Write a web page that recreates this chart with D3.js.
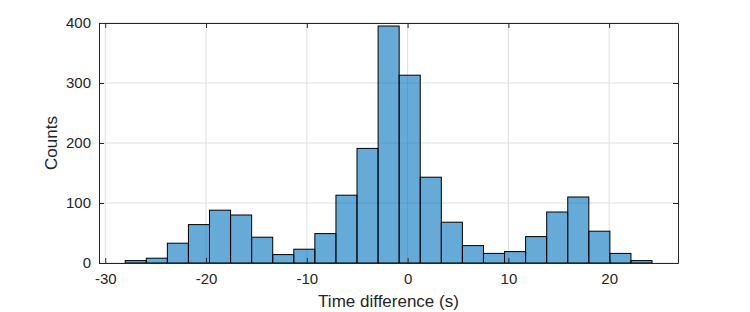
<!DOCTYPE html>
<html>
<head>
<meta charset="utf-8">
<script src="https://cdn.jsdelivr.net/npm/d3@7"></script>
<style>
body{margin:0;background:#fff;}
text{font-family:"Liberation Sans",Arial,Helvetica,sans-serif;fill:#262626;}
</style>
</head>
<body>
<svg id="chart" width="750" height="312"></svg>
<script>
// Data
const binStart = -28.02;
const binWidth = 2.091;
const counts = [4,8,33,64,88,80,43,14,23,49,113,191,395,313,143,68,29,16,19,44,85,110,53,16,4];
const xTicks = [-30,-20,-10,0,10,20];
const yTicks = [0,100,200,300,400];
const xLabel = "Time difference (s)";
const yLabel = "Counts";

const bins = counts.map((c,i)=>({x0: binStart + i*binWidth, x1: binStart + (i+1)*binWidth, n: c}));

const svg = d3.select("#chart");
const L = 99, R = 678, T = 23, B = 263;
const x = d3.scaleLinear().domain([-30.62, 26.83]).range([L, R]);
const y = d3.scaleLinear().domain([0, 400]).range([B, T]);

// grid
const grid = svg.append("g");
grid.selectAll(".gx").data(xTicks).enter().append("line")
  .attr("x1", d=>x(d)).attr("x2", d=>x(d)).attr("y1", T).attr("y2", B)
  .attr("stroke", "#dfdfdf").attr("stroke-width", 1);
grid.selectAll(".gy").data(yTicks).enter().append("line")
  .attr("x1", L).attr("x2", R).attr("y1", d=>y(d)).attr("y2", d=>y(d))
  .attr("stroke", "#dfdfdf").attr("stroke-width", 1);

// bars
svg.append("g").selectAll("rect").data(bins).enter().append("rect")
  .attr("x", d=>x(d.x0)).attr("width", d=>x(d.x1)-x(d.x0))
  .attr("y", d=>y(d.n)).attr("height", d=>y(0)-y(d.n))
  .attr("fill", "rgba(0,114,189,0.6)")
  .attr("stroke", "#000").attr("stroke-width", 1);

// axes (MATLAB-like box with inward ticks)
const tl = 5;
const fmt = d => String(d);
const xAxisB = d3.axisBottom(x).tickValues(xTicks).tickFormat(fmt).tickSizeInner(-tl).tickSizeOuter(0).tickPadding(10);
const xAxisT = d3.axisTop(x).tickValues(xTicks).tickSizeInner(-tl).tickSizeOuter(0).tickFormat("");
const yAxisL = d3.axisLeft(y).tickValues(yTicks).tickFormat(fmt).tickSizeInner(-tl).tickSizeOuter(0).tickPadding(8);
const yAxisR = d3.axisRight(y).tickValues(yTicks).tickSizeInner(-tl).tickSizeOuter(0).tickFormat("");

function style(g){
  g.select(".domain").attr("stroke","#262626").attr("stroke-width",1);
  g.selectAll(".tick line").attr("stroke","#262626");
  g.selectAll(".tick text").attr("fill","#262626").style("font-size","15px")
    .style("font-family","'Liberation Sans',Arial,sans-serif");
}
svg.append("g").attr("transform",`translate(0,${B})`).call(xAxisB).call(style);
svg.append("g").attr("transform",`translate(0,${T})`).call(xAxisT).call(style);
svg.append("g").attr("transform",`translate(${L},0)`).call(yAxisL).call(style);
svg.append("g").attr("transform",`translate(${R},0)`).call(yAxisR).call(style);

// labels
svg.append("text").attr("x", (L+R)/2).attr("y", 307).attr("text-anchor","middle")
  .style("font-size","17px").text(xLabel);
svg.append("text").attr("transform",`translate(57,143) rotate(-90)`)
  .attr("text-anchor","middle").style("font-size","17px").text(yLabel);
</script>
</body>
</html>
